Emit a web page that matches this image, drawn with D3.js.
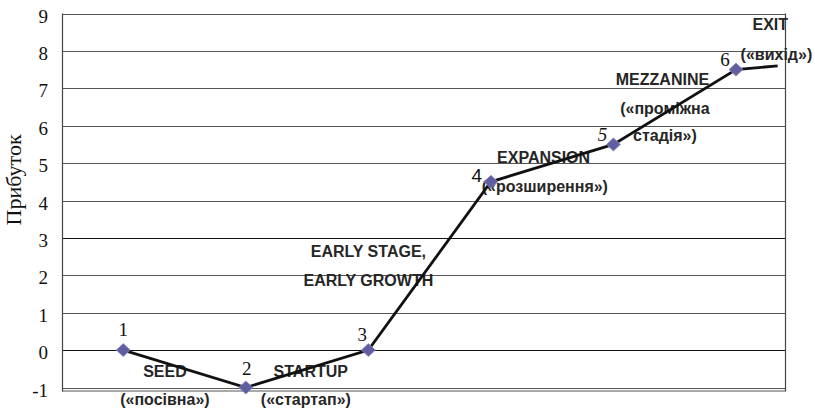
<!DOCTYPE html>
<html><head><meta charset="utf-8">
<script src="https://cdn.jsdelivr.net/npm/d3@7"></script>
<style>html,body{margin:0;padding:0;background:#fff;}svg{display:block;}</style>
</head><body>
<svg id="chart" width="815" height="411"></svg>
<script>
// ---- data ----
const stages = [1, 2, 3, 4, 5, 6];
const profit = [0, -1, 0, 4.5, 5.5, 7.5];
const tailPoint = {stage: 6.34, value: 7.6};
const yTicks = [-1, 0, 1, 2, 3, 4, 5, 6, 7, 8, 9];
const yTitle = "Прибуток";
const pointLabels = ["1", "2", "3", "4", "5", "6"];
const stageText = [
  "SEED", "(«посівна»)",
  "STARTUP", "(«стартап»)",
  "EARLY STAGE,", "EARLY GROWTH",
  "EXPANSION", "(«розширення»)",
  "MEZZANINE", "(«проміжна", "стадія»)",
  "EXIT", "(«вихід»)"
];
// annotation anchors in data units (stage, value)
const stageTextX = [1.34, 1.34, 2.53, 2.49, 3.0, 3.0, 4.43, 4.44, 5.40, 5.42, 5.42, 6.28, 6.33];
const stageTextY = [-0.72, -1.47, -0.72, -1.47, 2.49, 1.71, 5.0, 4.22, 7.09, 6.31, 5.59, 8.56, 7.75];

// ---- layout ----
const svg = d3.select("#chart");
const L = 62, R = 785, T = 13.5, B = 387.5;
const x = d3.scaleLinear().domain([0.5, 6.4]).range([L, R]);
const y = d3.scaleLinear().domain([-1, 9]).range([B, T]);

// gridlines
svg.append("g").selectAll("line").data(yTicks).join("line")
  .attr("x1", L).attr("x2", R)
  .attr("y1", d => Math.round(y(d)) + 0.5).attr("y2", d => Math.round(y(d)) + 0.5)
  .attr("stroke", d => (d === 0 || d === 3) ? "#111" : "#555").attr("stroke-width", 1.2);

// axis frame
svg.append("line").attr("x1", L + 0.5).attr("x2", L + 0.5).attr("y1", T).attr("y2", B + 4)
  .attr("stroke", "#444").attr("stroke-width", 1.2);
svg.append("line").attr("x1", R + 0.5).attr("x2", R + 0.5).attr("y1", T).attr("y2", B + 4)
  .attr("stroke", "#444").attr("stroke-width", 1.2);
svg.append("line").attr("x1", L).attr("x2", R).attr("y1", B + 3.5).attr("y2", B + 3.5)
  .attr("stroke", "#555").attr("stroke-width", 1.2);

// y axis tick labels
const yAxis = d3.axisLeft(y).tickValues(yTicks).tickSize(0).tickPadding(14).tickFormat(d => String(d));
const ga = svg.append("g").attr("transform", `translate(${L},0)`).call(yAxis);
ga.select(".domain").remove();
ga.selectAll("text").attr("font-family", "'Liberation Serif','Times New Roman',serif")
  .attr("font-size", 19).attr("fill", "#111").attr("dy", "0.45em");

// y title
svg.append("text").attr("transform", `translate(21,${y(4.55)}) rotate(-90)`)
  .attr("text-anchor", "middle").attr("font-family", "'Liberation Serif','Times New Roman',serif")
  .attr("font-size", 22).attr("fill", "#111").text(yTitle);

// stage texts
svg.append("g").selectAll("text").data(stageText).join("text")
  .attr("x", (d, i) => x(stageTextX[i])).attr("y", (d, i) => y(stageTextY[i]))
  .attr("text-anchor", "middle")
  .attr("font-family", "'Liberation Sans',Arial,sans-serif").attr("font-weight", "bold")
  .attr("font-size", 16).attr("fill", "#262626").text(d => d);

// line
const pts = stages.map((s, i) => ({stage: s, value: profit[i]})).concat([tailPoint]);
svg.append("path").datum(pts)
  .attr("d", d3.line().x(d => x(d.stage)).y(d => y(d.value)))
  .attr("fill", "none").attr("stroke", "#111").attr("stroke-width", 2.8);

// markers
svg.append("g").selectAll("path").data(stages).join("path")
  .attr("transform", (d, i) => `translate(${x(d)},${y(profit[i])})`)
  .attr("d", "M0,-6.5L7,0L0,6.5L-7,0Z")
  .attr("fill", "#5f5f9f").attr("stroke", "#8c8cc4").attr("stroke-width", 0.8);

// point number labels
const lblDx = [0, 1, -6, -14, -11, -11];
const lblDy = [-14, -13, -9, 0, -3, -4];
svg.append("g").selectAll("text").data(pointLabels).join("text")
  .attr("x", (d, i) => x(stages[i]) + lblDx[i]).attr("y", (d, i) => y(profit[i]) + lblDy[i])
  .attr("text-anchor", "middle")
  .attr("font-family", (d, i) => i === 3 ? "'Liberation Sans',Arial,sans-serif" : "'Liberation Serif','Times New Roman',serif")
  .attr("font-style", (d, i) => i === 4 ? "italic" : "normal")
  .attr("font-size", 19).attr("fill", "#111").text(d => d);
</script>
</body></html>
